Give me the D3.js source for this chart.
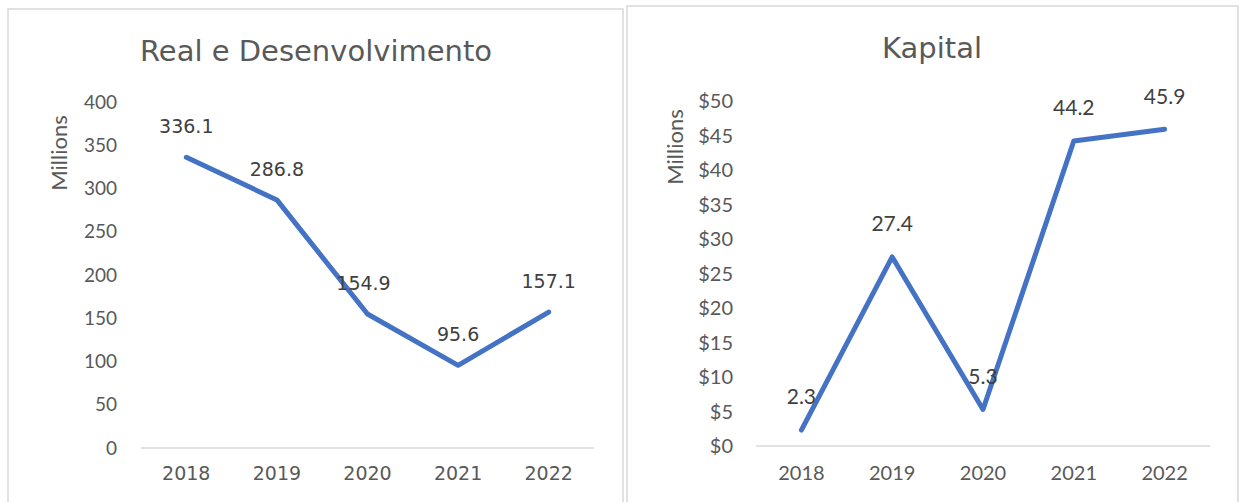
<!DOCTYPE html>
<html><head><meta charset="utf-8">
<script src="https://cdn.jsdelivr.net/npm/d3@7"></script>
<style>
html,body{margin:0;padding:0;background:#fff;}
svg{display:block;}
</style></head>
<body>
<svg id="c" width="1242" height="502"></svg>
<script>
const years = ["2018","2019","2020","2021","2022"];
const rdValues = [336.1, 286.8, 154.9, 95.6, 157.1];
const kapValues = [2.3, 27.4, 5.3, 44.2, 45.9];
const rdTicks = [0,50,100,150,200,250,300,350,400];
const kapTicks = [0,5,10,15,20,25,30,35,40,45,50];
const rdTitle = "Real e Desenvolvimento";
const kapTitle = "Kapital";
const axisTitle = "Millions";

const svg = d3.select("#c");
const gothic = "'DejaVu Sans', 'Noto Sans', sans-serif";
const calibri = "'Lato', 'Open Sans', sans-serif";

function panel(cfg){
  const g = svg.append("g");
  g.append("rect").attr("x",cfg.box[0]).attr("y",cfg.box[1]).attr("width",cfg.box[2]).attr("height",cfg.box[3])
    .attr("fill","#fff").attr("stroke","#d9d9d9").attr("stroke-width",1.5);
  const x = d3.scaleBand().domain(years).range([cfg.x0,cfg.x1]);
  const y = d3.scaleLinear().domain([0,cfg.max]).range([cfg.y0,cfg.y1]);
  g.append("text").attr("x",cfg.titleX).attr("y",cfg.titleY).attr("text-anchor","middle")
    .attr("font-family",gothic).attr("font-size",29).attr("fill","#595959").text(cfg.title);
  g.append("text").attr("transform",`translate(${cfg.mx},${cfg.my}) rotate(-90)`).attr("text-anchor","middle")
    .attr("font-family",calibri).attr("font-size",22).attr("fill","#595959").text(axisTitle);
  // y tick labels
  g.selectAll(".yt").data(cfg.ticks).enter().append("text")
    .attr("x",cfg.tx).attr("y",d=>y(d)).attr("dy","0.35em").attr("text-anchor","end")
    .attr("font-family",calibri).attr("font-size",cfg.tSize).attr("fill","#595959").text(cfg.fmt);
  // baseline
  g.append("line").attr("x1",cfg.x0).attr("x2",cfg.x1).attr("y1",y(0)).attr("y2",y(0))
    .attr("stroke","#d9d9d9").attr("stroke-width",1.5);
  // x labels
  g.selectAll(".xt").data(years).enter().append("text")
    .attr("x",d=>x(d)+x.bandwidth()/2).attr("y",cfg.xly).attr("text-anchor","middle")
    .attr("font-family",cfg.xFont).attr("font-size",cfg.xSize).attr("fill","#595959").text(d=>d);
  const line = d3.line().x((d,i)=>x(years[i])+x.bandwidth()/2).y(d=>y(d));
  g.append("path").datum(cfg.values).attr("d",line).attr("fill","none")
    .attr("stroke","#4472c4").attr("stroke-width",5).attr("stroke-linecap","round").attr("stroke-linejoin","round");
  g.selectAll(".dl").data(cfg.values).enter().append("text")
    .attr("x",(d,i)=>x(years[i])+x.bandwidth()/2 + (cfg.dx?cfg.dx[i]:0)).attr("y",d=>y(d)-cfg.lblOff).attr("dy","0.35em")
    .attr("text-anchor","middle").attr("font-family",cfg.lFont).attr("font-size",cfg.lSize).attr("fill","#404040")
    .text(d=>d.toFixed(1));
}

panel({box:[8,9,615,500], x0:141, x1:594, y0:448, y1:102, max:400, ticks:rdTicks, fmt:d=>d,
  tx:117, xly:480, title:rdTitle, titleX:316, titleY:61, mx:67, my:153, tSize:19, values:rdValues, lblOff:31,
  xFont:gothic, xSize:19, lFont:gothic, lSize:19, dx:[0,0,-4,0,0]});
panel({box:[627,6,611,500], x0:756, x1:1210, y0:446, y1:101, max:50, ticks:kapTicks, fmt:d=>"$"+d,
  tx:733, xly:480, title:kapTitle, titleX:932, titleY:58, mx:683, my:147, tSize:20, values:kapValues, lblOff:33,
  xFont:calibri, xSize:20, lFont:calibri, lSize:21});
</script>
</body></html>
